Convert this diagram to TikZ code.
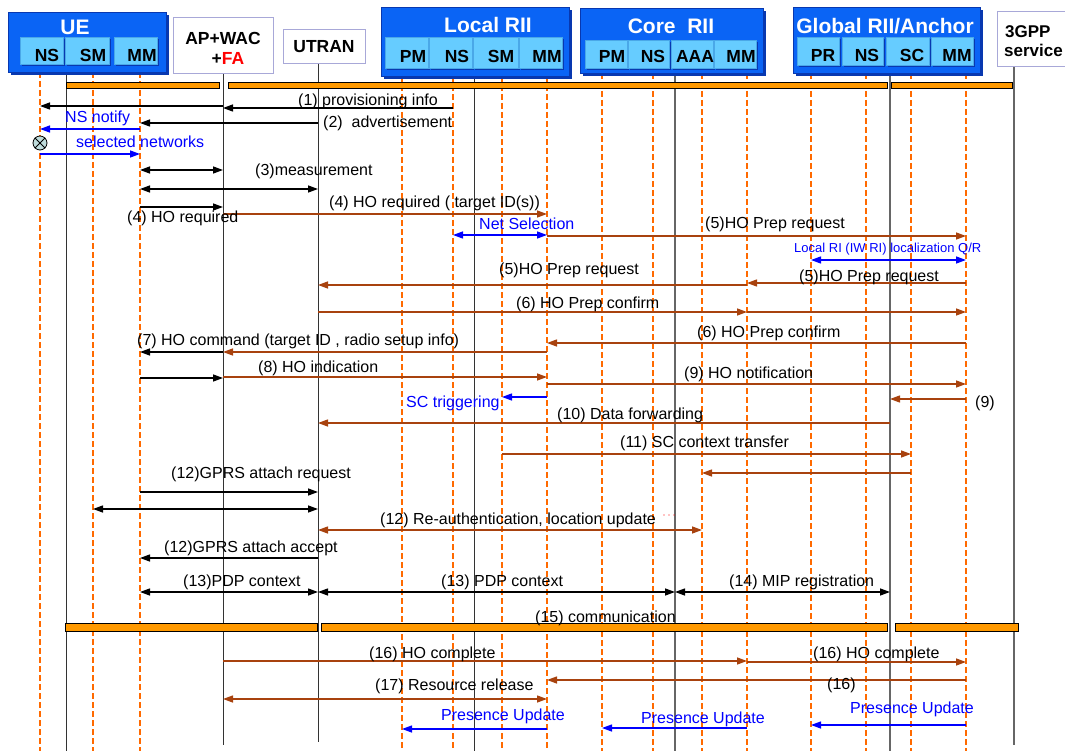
\documentclass[tikz,border=0pt]{standalone}
\usepackage{fontspec}
\setmainfont{Liberation Sans}
\usetikzlibrary{arrows.meta,shadows}

\definecolor{hblue}{HTML}{0A64F5}
\definecolor{hdark}{HTML}{0838B0}
\definecolor{sblue}{HTML}{66CCFF}
\definecolor{sedge}{HTML}{4AA8E8}
\definecolor{lifeor}{HTML}{FF6A00}
\definecolor{brn}{HTML}{A8420E}
\definecolor{baror}{HTML}{FF9900}
\definecolor{boxedge}{HTML}{A8A8D8}
\definecolor{xfill}{HTML}{BFDCDC}

\tikzset{
  big/.style={draw=hdark, fill=hblue, line width=0.6pt, inner sep=0pt,
    drop shadow={shadow xshift=3pt, shadow yshift=-3pt, fill=hdark, opacity=1}},
  cell/.style={draw=sedge, fill=sblue, line width=0.6pt, inner sep=0pt,
    drop shadow={shadow xshift=2pt, shadow yshift=-2pt, fill=hdark, opacity=1}},
  wbox/.style={draw=boxedge, fill=white, line width=1pt, inner sep=0pt},
  title/.style={text=white, anchor=base, inner sep=0pt, font=\bfseries\fontsize{21}{24}\selectfont},
  celltxt/.style={anchor=base, inner sep=0pt, font=\bfseries\fontsize{17.5}{20}\selectfont},
  hdrtxt/.style={anchor=base, inner sep=0pt, font=\bfseries\fontsize{17.5}{20}\selectfont},
  lbl/.style={anchor=base west, inner sep=0pt, font=\fontsize{16}{19}\selectfont},
  small/.style={anchor=base west, inner sep=0pt, font=\fontsize{13}{15}\selectfont},
  dline/.style={lifeor, line width=2pt, dash pattern=on 6pt off 3pt},
  sline/.style={black!80, line width=1pt},
  gline/.style={black!60, line width=1.2pt},
  barst/.style={fill=baror, draw=black, line width=0.8pt},
  tip/.style={-{Triangle[length=10pt,width=7pt]}},
  tips/.style={{Triangle[length=10pt,width=7pt]}-{Triangle[length=10pt,width=7pt]}},
  mk/.style={black, line width=1.3pt, tip},
  mk2/.style={black, line width=1.3pt, tips},
  mr/.style={brn, line width=1.3pt, tip},
  mr2/.style={brn, line width=1.3pt, tips},
  mu/.style={blue, line width=1.3pt, tip},
  mu2/.style={blue, line width=1.3pt, tips},
  xmark/.style={circle, draw=black, fill=xfill, line width=0.8pt, minimum size=14pt, inner sep=0pt}
}

% one coloured cell inside a header box: name, x, y, width, height, text x, text baseline, text
\newcommand\subcell[8]{%
  \node[cell, minimum width=#4pt, minimum height=#5pt, anchor=north west] (#1) at (#2,#3) {};
  \node[celltxt] (#1t) at (#6,#7) {#8};}

\begin{document}
\begin{tikzpicture}[x=1pt,y=-1pt]
\useasboundingbox (0,0) rectangle (1065,751);
\clip (0,0) rectangle (1065,751);

% lifeline positions
\coordinate (uNS) at (40,0);
\coordinate (uLn) at (66,0);
\coordinate (uSM) at (93,0);
\coordinate (uMM) at (140,0);
\coordinate (ap)  at (223,0);
\coordinate (ut)  at (318,0);
\coordinate (lPM) at (402,0);
\coordinate (lNS) at (453,0);
\coordinate (lLn) at (474,0);
\coordinate (lSM) at (502,0);
\coordinate (lMM) at (547,0);
\coordinate (cPM) at (602,0);
\coordinate (cNS) at (653,0);
\coordinate (cLn) at (675,0);
\coordinate (cAAA) at (702,0);
\coordinate (cMM) at (747,0);
\coordinate (gPR) at (811,0);
\coordinate (gNS) at (866,0);
\coordinate (gLn) at (890,0);
\coordinate (gSC) at (911,0);
\coordinate (gMM) at (966,0);
\coordinate (tg)  at (1014,0);

% dashed lifelines of the functional modules
\foreach \p/\t in {uNS/72,uSM/72,uMM/72,lPM/76,lNS/76,lSM/76,lMM/76,cPM/73,cNS/73,cAAA/73,cMM/73,gPR/73,gNS/73,gSC/73,gMM/73}
  \draw[dline] (\p |- 0,\t) -- (\p |- 0,751);
% solid lifelines of the entities
\draw[sline] (uLn |- 0,72) -- (uLn |- 0,751);
\draw[sline] (ap |- 0,73) -- (ap |- 0,745);
\draw[sline] (ut |- 0,63) -- (ut |- 0,742);
\draw[sline] (lLn |- 0,76) -- (lLn |- 0,751);
\draw[gline] (cLn |- 0,73) -- (cLn |- 0,751);
\draw[gline] (gLn |- 0,73) -- (gLn |- 0,751);
\draw[gline] (tg |- 0,66) -- (tg |- 0,745);

% header: UE
\node[big, minimum width=158pt, minimum height=60pt, anchor=north west] (ue) at (8,12) {};
\node[title] (ueT) at (75,35) {UE};
\subcell{ueNS}{20}{37}{43}{27}{47}{62}{NS}
\subcell{ueSM}{65}{37}{44}{27}{93}{62}{SM}
\subcell{ueMM}{114}{37}{43}{27}{142}{62}{MM}

% header: AP+WAC+FA
\node[wbox, minimum width=100pt, minimum height=56pt, anchor=north west] (apb) at (173,17) {};
\node[hdrtxt] (apT1) at (223,45) {AP+WAC};
\node[hdrtxt] (apT2) at (228,65) {+\textcolor{red}{FA}};

% header: UTRAN
\node[wbox, minimum width=82pt, minimum height=34pt, anchor=north west] (utb) at (283,29) {};
\node[hdrtxt] (utT) at (324,53) {UTRAN};

% header: Local RII
\node[big, minimum width=188pt, minimum height=69pt, anchor=north west] (loc) at (381,7) {};
\node[title] (locT) at (488,33) {Local RII};
\subcell{lPMb}{385}{37}{43}{31}{413}{63}{PM}
\subcell{lNSb}{429}{37}{43}{31}{457}{63}{NS}
\subcell{lSMb}{473}{37}{45}{31}{501}{63}{SM}
\subcell{lMMb}{519}{37}{43}{31}{547}{63}{MM}

% header: Core RII
\node[big, minimum width=183pt, minimum height=65pt, anchor=north west] (core) at (580,8) {};
\node[title] (coreT) at (671,34) {Core~~RII};
\subcell{cPMb}{585}{40}{42}{28}{612}{63}{PM}
\subcell{cNSb}{628}{40}{41}{28}{653}{63}{NS}
\subcell{cAAAb}{671}{40}{42}{28}{695}{63}{AAA}
\subcell{cMMb}{714}{40}{42}{28}{741}{63}{MM}

% header: Global RII/Anchor
\node[big, minimum width=187pt, minimum height=66pt, anchor=north west] (glob) at (793,7) {};
\node[title] (globT) at (885,34) {Global RII/Anchor};
\subcell{gPRb}{797}{37}{42}{28}{823}{62}{PR}
\subcell{gNSb}{842}{37}{41}{28}{867}{62}{NS}
\subcell{gSCb}{886}{37}{43}{28}{912}{62}{SC}
\subcell{gMMb}{931}{37}{42}{28}{957}{62}{MM}

% header: 3GPP service
\node[wbox, minimum width=90pt, minimum height=55pt, anchor=north west] (tgb) at (997,11) {};
\node[hdrtxt, anchor=base west, font=\bfseries\fontsize{17}{20}\selectfont] (tgT1) at (1005,38) {3GPP};
\node[hdrtxt, anchor=base west, font=\bfseries\fontsize{17}{20}\selectfont] (tgT2) at (1004,57) {service};

% connectivity bars
\draw[barst] (66,82) rectangle (219,88);
\draw[barst] (228,82) rectangle (887,88);
\draw[barst] (891,82) rectangle (1012,88);
\draw[barst] (65,623) rectangle (317,631);
\draw[barst] (321,623) rectangle (887,631);
\draw[barst] (895,623) rectangle (1018,631);

% (1) provisioning
\draw[mk] (lNS |- 0,108) -- (ap |- 0,108);
\draw[mk] (ap |- 0,106) -- (uNS |- 0,106);
\node[lbl] (t1) at (298,106) {(1) provisioning info};
% (2) advertisement
\draw[mk] (ut |- 0,123) -- (uMM |- 0,123);
\node[lbl] (t2) at (323,128) {(2)~~advertisement};
% network selection in the UE
\draw[mu] (uMM |- 0,129) -- (uNS |- 0,129);
\node[lbl, text=blue] (tnsn) at (65,123) {NS notify};
\node[xmark] (sel) at (40,143) {};
\draw[line width=0.8pt] (sel.north west) -- (sel.south east) (sel.north east) -- (sel.south west);
\node[lbl, text=blue] (tsel) at (76,148) {selected networks};
\draw[mu] (uNS |- 0,154) -- (uMM |- 0,154);
% (3) measurement
\draw[mk2] (uMM |- 0,170) -- (ap |- 0,170);
\draw[mk2] (uMM |- 0,189) -- (ut |- 0,189);
\node[lbl] (t3) at (255,176) {(3)measurement};
% (4) HO required
\draw[mk] (uMM |- 0,207) -- (ap |- 0,207);
\draw[mr] (ap |- 0,214) -- (lMM |- 0,214);
\node[lbl] (t4a) at (127,223) {(4) HO required};
\node[lbl] (t4b) at (329,208) {(4) HO required ( target ID(s))};
% net selection and (5) HO Prep request
\draw[mu2] (lNS |- 0,235) -- (lMM |- 0,235);
\node[lbl, text=blue] (tnet) at (479,230) {Net Selection};
\draw[mr] (lMM |- 0,236) -- (gMM |- 0,236);
\node[lbl] (t5a) at (705,229) {(5)HO Prep request};
\draw[mu2] (gPR |- 0,260) -- (gMM |- 0,260);
\node[small, text=blue] (tloc) at (794,253) {Local RI (IW RI) localization Q/R};
\draw[mr] (gMM |- 0,283) -- (cMM |- 0,283);
\node[lbl] (t5b) at (799,281) {(5)HO Prep request};
\draw[mr] (cMM |- 0,285) -- (ut |- 0,285);
\node[lbl] (t5c) at (499,275) {(5)HO Prep request};
% (6) HO Prep confirm
\draw[mr] (ut |- 0,312) -- (cMM |- 0,312);
\draw[mr] (cMM |- 0,312) -- (gMM |- 0,312);
\node[lbl] (t6a) at (516,308) {(6) HO Prep confirm};
\draw[mr] (gMM |- 0,343) -- (lMM |- 0,343);
\node[lbl] (t6b) at (697,337) {(6) HO Prep confirm};
% (7) HO command
\draw[mr] (lMM |- 0,352) -- (ap |- 0,352);
\draw[mk] (ap |- 0,352) -- (uMM |- 0,352);
\node[lbl] (t7) at (137,345) {(7) HO command (target ID , radio setup info)};
% (8) HO indication
\draw[mk] (uMM |- 0,378) -- (ap |- 0,378);
\draw[mr] (ap |- 0,377) -- (lMM |- 0,377);
\node[lbl] (t8) at (258,372) {(8) HO indication};
% (9) HO notification
\draw[mr] (lMM |- 0,384) -- (gMM |- 0,384);
\node[lbl] (t9a) at (684,378) {(9) HO notification};
\draw[mr] (gMM |- 0,399) -- (gLn |- 0,399);
\node[lbl] (t9b) at (975,407) {(9)};
\draw[mu] (lMM |- 0,397) -- (lSM |- 0,397);
\node[lbl, text=blue] (tsc) at (406,407) {SC triggering};
% (10) data forwarding
\draw[mr] (gLn |- 0,423) -- (ut |- 0,423);
\node[lbl] (t10) at (557,419) {(10) Data forwarding};
% (11) SC context transfer
\draw[mr] (lSM |- 0,454) -- (gSC |- 0,454);
\node[lbl] (t11) at (620,447) {(11) SC context transfer};
\draw[mr] (gSC |- 0,473) -- (cAAA |- 0,473);
% (12) GPRS attach
\draw[mk] (uMM |- 0,492) -- (ut |- 0,492);
\node[lbl] (t12a) at (171,478) {(12)GPRS attach request};
\draw[mk2] (uSM |- 0,509) -- (ut |- 0,509);
\draw[mr2] (ut |- 0,530) -- (cAAA |- 0,530);
\node[lbl] (t12b) at (380,524) {(12) Re-authentication, location update};
\foreach \x in {664,669,674} \fill[red] (\x,515) circle (0.6);
\draw[mk] (ut |- 0,558) -- (uMM |- 0,558);
\node[lbl] (t12c) at (164,552) {(12)GPRS attach accept};
% (13) PDP context and (14) MIP registration
\draw[mk2] (uMM |- 0,592) -- (ut |- 0,592);
\node[lbl] (t13a) at (183,586) {(13)PDP context};
\draw[mk2] (ut |- 0,592) -- (cLn |- 0,592);
\node[lbl] (t13b) at (441,586) {(13) PDP context};
\draw[mk2] (cLn |- 0,592) -- (gLn |- 0,592);
\node[lbl] (t14) at (729,586) {(14) MIP registration};
% (15) communication
\node[lbl] (t15) at (535,622) {(15) communication};
% (16) HO complete
\draw[mr] (ap |- 0,661) -- (cMM |- 0,661);
\node[lbl] (t16a) at (369,658) {(16) HO complete};
\draw[mr] (cMM |- 0,662) -- (gMM |- 0,662);
\node[lbl] (t16b) at (813,658) {(16) HO complete};
\draw[mr] (gMM |- 0,680) -- (lMM |- 0,680);
\node[lbl] (t16c) at (827,689) {(16)};
% (17) resource release
\draw[mr2] (ap |- 0,699) -- (lMM |- 0,699);
\node[lbl] (t17) at (375,690) {(17) Resource release};
% presence updates
\draw[mu] (lMM |- 0,729) -- (lPM |- 0,729);
\node[lbl, text=blue] (tp1) at (441,720) {Presence Update};
\draw[mu] (cMM |- 0,728) -- (cPM |- 0,728);
\node[lbl, text=blue] (tp2) at (641,723) {Presence Update};
\draw[mu] (gMM |- 0,725) -- (gPR |- 0,725);
\node[lbl, text=blue] (tp3) at (850,713) {Presence Update};
\end{tikzpicture}
\end{document}
